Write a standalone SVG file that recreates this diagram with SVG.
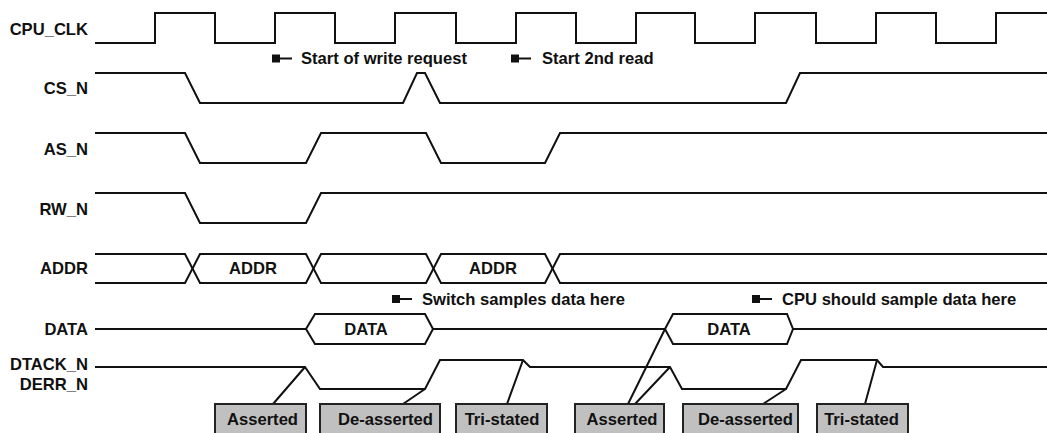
<svg xmlns="http://www.w3.org/2000/svg" width="1047" height="433" viewBox="0 0 1047 433">
<style>
text{font-family:"Liberation Sans",Arial,sans-serif;font-weight:bold;font-size:16.6px;fill:#111}
.lbl{text-anchor:end}
.mid{text-anchor:middle}
.sig{fill:none;stroke:#111;stroke-width:2;stroke-linejoin:miter}
.bus{fill:#fff;stroke:#111;stroke-width:2}
.box{fill:#c0c0c0;stroke:#222;stroke-width:2}
.call{fill:none;stroke:#111;stroke-width:2}
.mk{fill:#111}
</style>
<defs>
<g id="marker"><rect class="mk" x="0" y="-4" width="8" height="8"/><line x1="8" y1="0" x2="20" y2="0" stroke="#111" stroke-width="2"/></g>
</defs>
<rect width="1047" height="433" fill="#fff"/>
<g id="cpu_clk">
<text class="lbl" x="88" y="35">CPU_CLK</text>
<path class="sig" d="M95,43 H155 V13 H215 V43 H275 V13 H335 V43 H395 V13 H456 V43 H516 V13 H576 V43 H636 V13 H695 V43 H755 V13 H816 V43 H876 V13 H936 V43 H996 V13 H1047"/>
</g>
<g id="cs_n">
<text class="lbl" x="88" y="94">CS_N</text>
<path class="sig" d="M95,73 H185 L200,103 H403 L417,73 H425 L440,103 H786 L800,73 H1047"/>
</g>
<g id="as_n">
<text class="lbl" x="88" y="155">AS_N</text>
<path class="sig" d="M95,133 H185 L200,163 H306 L321,133 H426 L441,163 H545 L560,133 H1047"/>
</g>
<g id="rw_n">
<text class="lbl" x="88" y="215">RW_N</text>
<path class="sig" d="M95,193 H185 L200,223 H306 L321,193 H1047"/>
</g>
<g id="addr">
<text class="lbl" x="88" y="274">ADDR</text>
<path class="sig" d="M95,254 H185 L200,283 H306 L321,254 H426 L441,283 H545 L560,254 H1047"/>
<path class="sig" d="M95,283 H185 L200,254 H306 L321,283 H426 L441,254 H545 L560,283 H1047"/>
<text class="mid" x="253" y="274">ADDR</text>
<text class="mid" x="493" y="274">ADDR</text>
</g>
<g id="data">
<text class="lbl" x="88" y="335">DATA</text>
<path class="sig" d="M95,329 H306 M433,329 H665 M793,329 H1047"/>
<polygon class="bus" points="306,329 315,314 425,314 433,329 425,344 315,344"/>
<polygon class="bus" points="665,329 673,314 787,314 793,329 787,344 673,344"/>
<text class="mid" x="366" y="335">DATA</text>
<text class="mid" x="729" y="335">DATA</text>
</g>
<g id="dtack_n">
<text class="lbl" x="88" y="370">DTACK_N</text>
<text class="lbl" x="88" y="390">DERR_N</text>
<path class="sig" d="M95,367 H305 L320,389 H425 L440,360 H523 L530,367 H670 L682,389 H786 L801,360 H877 L883,367 H1047"/>
</g>
<g id="notes">
<use href="#marker" x="272" y="58.5"/>
<text x="301" y="64">Start of write request</text>
<use href="#marker" x="511" y="58.5"/>
<text x="542" y="64">Start 2nd read</text>
<use href="#marker" x="392" y="299"/>
<text x="422" y="305">Switch samples data here</text>
<use href="#marker" x="752" y="299"/>
<text x="782" y="305">CPU should sample data here</text>
</g>
<g id="connectors">
<path class="call" d="M273,404 L305,367 M403,404 L425,389 M507,404 L523,360 M628,404 L665,329 M635,404 L670,367 M763,404 L786,389 M865,404 L877,360"/>
</g>
<g id="box_asserted1"><rect class="box" x="215" y="404" width="91" height="40"/><text class="mid" x="262.5" y="425">Asserted</text></g>
<g id="box_deasserted1"><rect class="box" x="320" y="404" width="120" height="40"/><text class="mid" x="385.5" y="425">De-asserted</text></g>
<g id="box_tristated1"><rect class="box" x="456" y="404" width="91" height="40"/><text class="mid" x="502" y="425">Tri-stated</text></g>
<g id="box_asserted2"><rect class="box" x="575" y="404" width="89" height="40"/><text class="mid" x="622" y="425">Asserted</text></g>
<g id="box_deasserted2"><rect class="box" x="683" y="404" width="115" height="40"/><text class="mid" x="745.5" y="425">De-asserted</text></g>
<g id="box_tristated2"><rect class="box" x="817" y="404" width="91" height="40"/><text class="mid" x="861.5" y="425">Tri-stated</text></g>
</svg>
